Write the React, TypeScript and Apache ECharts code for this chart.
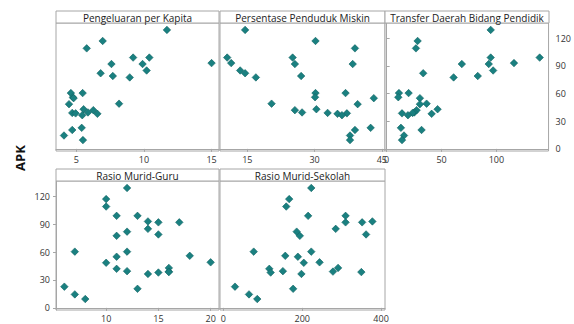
import React, { useEffect, useRef } from "react";
import * as echarts from "echarts";

const apk = [129, 117, 109, 99, 99, 93, 92, 92, 85, 82, 79, 77.5, 60.5, 60.5, 56, 55, 49, 48.5, 43, 42, 39.5, 39, 38.5, 38, 36.5, 22.8, 20.5, 14.5, 9.5];
const pengeluaran = [11.7, 6.95, 5.77, 9.2, 10.4, 15.0, 7.6, 9.9, 10.2, 6.8, 7.7, 8.95, 4.6, 5.47, 4.75, 4.8, 8.16, 4.46, 5.54, 6.26, 5.86, 4.7, 4.95, 6.56, 5.44, 5.4, 4.7, 4.09, 5.49];
const kemiskinan = [14.5, 30.2, 39, 25.1, 10.5, 11.4, 25.6, 38.5, 13.4, 14.5, 27, 16.9, 30.2, 36.9, 30.1, 43.2, 20.4, 39.6, 30.4, 25.6, 27.2, 32.9, 37.2, 35.1, 36.1, 42.5, 39, 37.9, 37.9];
const transfer = [94.8, 28.2, 26.7, 94.8, 139.4, 116, 68.5, 93, 97, 33.3, 83, 61, 11.2, 20, 10.6, 30.3, 36.4, 30.3, 46.4, 27.3, 25.2, 23.6, 14, 41, 19.4, 13, 31.8, 15.8, 14];
const rasioGuru = [12, 10, 10, 11, 13, 14, 15, 17, 14, 12, 15, 11, 7, 12, 18, 11, 20, 10, 16, 11, 12, 16, 16, 15, 14, 6, 13, 7, 8];
const rasioSekolah = [223, 167, 159.5, 215, 310, 378, 310, 352, 285, 186, 362, 194, 77, 223, 157, 189, 244, 204, 291, 116.5, 151, 278, 350, 120, 198, 29.5, 177, 65, 86];

const panelTitles = ["Pengeluaran per Kapita", "Persentase Penduduk Miskin", "Transfer Daerah Bidang Pendidik", "Rasio Murid-Guru", "Rasio Murid-Sekolah"];
const xTicks = [[5, 10, 15], [15, 30, 45], [0, 50, 100], [10, 15, 20], [0, 200, 400]];
const xRanges = [[3.5, 15.55], [8.9, 45.7], [-1.5, 147.5], [5.2, 20.8], [-8.5, 410]];
const yTicks = [0, 30, 60, 90, 120];
const yRange = [-2.3, 136.5];
const yTitle = "APK";

const panels = [
  { left: 56, top: 23, width: 163, height: 128 },
  { left: 220, top: 23, width: 165, height: 128 },
  { left: 385, top: 23, width: 164, height: 128 },
  { left: 56, top: 181, width: 163, height: 129 },
  { left: 220, top: 181, width: 165, height: 129 },
];
const headerH = 12;
const FONT = "'Open Sans', 'Noto Sans', sans-serif";
const GRAY = "#a6a6a6";

export default function App() {
  const ref = useRef<HTMLDivElement>(null);
  useEffect(() => {
    if (!ref.current) return;
    const chart = echarts.init(ref.current, null, { renderer: "svg" });
    const xs = [pengeluaran, kemiskinan, transfer, rasioGuru, rasioSekolah];
    const grid = panels.map((p) => ({
      left: p.left, top: p.top, width: p.width, height: p.height,
      show: true, borderColor: GRAY, borderWidth: 1, backgroundColor: "#fff",
    }));
    const xAxis = panels.map((p, i) => ({
      type: "value", gridIndex: i, min: xRanges[i][0], max: xRanges[i][1],
      axisLine: { show: true, lineStyle: { color: GRAY } },
      axisTick: { show: true, inside: false, length: 3, lineStyle: { color: GRAY }, customValues: xTicks[i] },
      axisLabel: { show: true, customValues: xTicks[i], color: "#333", fontSize: 9, fontFamily: FONT, margin: 4 },
      splitLine: { show: false },
    }));
    const yAxis = panels.map((p, i) => {
      const showY = i === 2 || i === 3;
      return {
        type: "value", gridIndex: i, min: yRange[0], max: yRange[1],
        position: i === 2 ? "right" : "left",
        axisLine: { show: showY, lineStyle: { color: GRAY } },
        axisTick: { show: showY, length: 3, lineStyle: { color: GRAY }, customValues: yTicks },
        axisLabel: { show: showY, customValues: yTicks, color: "#333", fontSize: 9, fontFamily: FONT, margin: i === 2 ? 7 : 6 },
        splitLine: { show: false },
      };
    });
    const series = panels.map((p, i) => ({
      type: "scatter", xAxisIndex: i, yAxisIndex: i,
      symbol: "diamond", symbolSize: 7.5,
      itemStyle: { color: "#1a8080", borderColor: "#0f6262", borderWidth: 0.6, opacity: 1 },
      data: apk.map((y, k) => [xs[i][k], y]),
    }));
    const graphic: any[] = [];
    panels.forEach((p, i) => {
      graphic.push({
        type: "rect", shape: { x: p.left, y: p.top - headerH, width: p.width, height: headerH },
        style: { fill: "#fff", stroke: GRAY, lineWidth: 1 }, z: 10,
      });
      graphic.push({
        type: "text", x: p.left + p.width / 2, y: p.top - headerH / 2 + 0.5,
        style: { text: panelTitles[i], fill: "#222", font: `10px ${FONT}`, textAlign: "center", textVerticalAlign: "middle" },
        z: 11,
      });
    });
    graphic.push({
      type: "text", x: 20, y: 158, rotation: Math.PI / 2,
      style: { text: yTitle, fill: "#111", font: `bold 13px ${FONT}`, textAlign: "center", textVerticalAlign: "middle" },
    });
    chart.setOption({
      animation: false,
      backgroundColor: "#fff",
      grid, xAxis, yAxis, series, graphic,
    });
    return () => chart.dispose();
  }, []);
  return <div ref={ref} style={{ position: "fixed", left: 0, top: 0, width: 574, height: 324 }} />;
}
